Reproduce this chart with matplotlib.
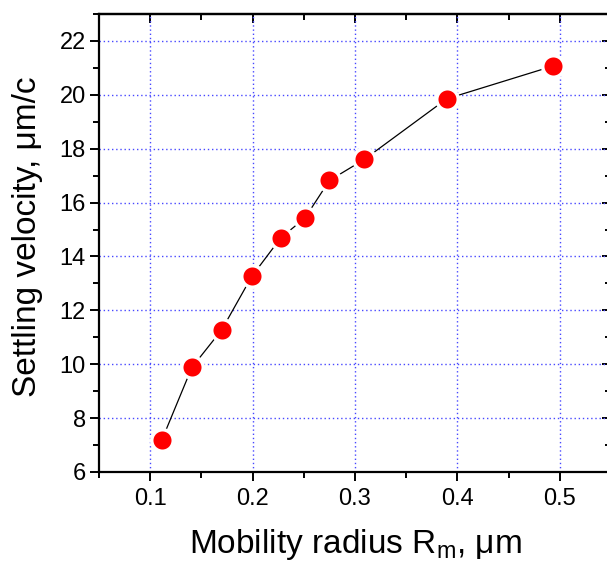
import matplotlib
matplotlib.use("Agg")
import matplotlib.pyplot as plt
from matplotlib.ticker import MultipleLocator

plt.rcParams['font.family'] = ['Liberation Sans', 'DejaVu Sans']
plt.rcParams['mathtext.fontset'] = 'custom'
plt.rcParams['mathtext.rm'] = 'Liberation Sans'

radius = [0.1114, 0.1407, 0.1699, 0.1992, 0.2275, 0.2512, 0.2750, 0.3090, 0.3895, 0.4935]
velocity = [7.19, 9.88, 11.28, 13.26, 14.69, 15.43, 16.82, 17.60, 19.85, 21.07]
x_ticks = [0.1, 0.2, 0.3, 0.4, 0.5]
y_ticks = [6, 8, 10, 12, 14, 16, 18, 20, 22]

fig = plt.figure(figsize=(6.07, 5.69), dpi=100)
ax = fig.add_axes([99/607, 1-472/569, 512/607, 458/569])

ax.plot(radius, velocity, color='black', lw=0.9, zorder=3)
ax.plot(radius, velocity, ls='none', marker='o', ms=15.5, mfc='#ff0000',
        mec='white', mew=2.5, zorder=4, clip_on=False)

ax.set_xlim(0.05, 0.55)
ax.set_ylim(6, 23)
ax.set_xticks(x_ticks)
ax.set_yticks(y_ticks)
ax.set_xticklabels([f"{v:g}" for v in x_ticks])
ax.xaxis.set_minor_locator(MultipleLocator(0.05))
ax.yaxis.set_minor_locator(MultipleLocator(1))

ax.grid(True, which='major', color='#4848ff', ls=(0, (1, 2)), lw=1.0)
ax.set_axisbelow(True)

for s in ax.spines.values():
    s.set_linewidth(1.6)

ax.tick_params(which='both', direction='out', top=False, right=False,
               labelsize=17, width=1.4)
ax.tick_params(axis='y', pad=3)
ax.tick_params(axis='x', pad=5)
ax.tick_params(which='major', length=6.5)
ax.tick_params(which='minor', length=4)

# mirrored inward ticks on top and right
axt = ax.secondary_xaxis('top')
axt.set_xticks(x_ticks)
axt.xaxis.set_ticklabels([])
axt.xaxis.set_minor_locator(MultipleLocator(0.05))
axt.tick_params(which='both', direction='in', width=1.4)
axt.tick_params(which='major', length=6.5)
axt.tick_params(which='minor', length=4)
axt.spines['top'].set_linewidth(1.6)
axr = ax.secondary_yaxis('right')
axr.set_yticks(y_ticks)
axr.yaxis.set_ticklabels([])
axr.yaxis.set_minor_locator(MultipleLocator(1))
axr.tick_params(which='both', direction='in', width=1.4)
axr.tick_params(which='major', length=6.5)
axr.tick_params(which='minor', length=4)
axr.spines['right'].set_linewidth(1.6)

ax.set_xlabel(r"Mobility radius R$_\mathregular{m}$, μm", fontsize=24, labelpad=12)
ax.set_ylabel("Settling velocity, μm/c", fontsize=24, labelpad=8)
ax.yaxis.set_label_coords(-0.11, (472 - 237) / 458)

fig.savefig("out.png", dpi=100)
